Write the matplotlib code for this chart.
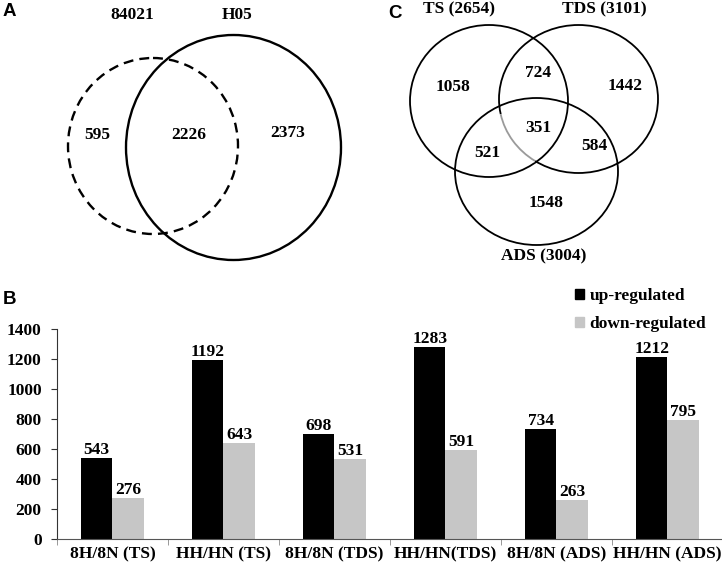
import numpy as np
import matplotlib.pyplot as plt
from matplotlib.patches import Ellipse, Arc, Patch

# panel B data
categories = ['8H/8N (TS)', 'HH/HN (TS)', '8H/8N (TDS)', 'HH/HN(TDS)', '8H/8N (ADS)', 'HH/HN (ADS)']
up_reg = [543, 1192, 698, 1283, 734, 1212]
down_reg = [276, 643, 531, 591, 263, 795]
series_names = ['up-regulated', 'down-regulated']

# panel A data
venn_a_sets = ['84021', 'H05']
venn_a_counts = [595, 2226, 2373]  # only 84021, both, only H05

# panel C data
venn_c_sets = ['TS (2654)', 'TDS (3101)', 'ADS (3004)']
venn_c_counts = [1058, 724, 1442, 351, 521, 584, 1548]  # TS, TS&TDS, TDS, all, TS&ADS, TDS&ADS, ADS

serif = 'Liberation Serif'
sans = 'Liberation Sans'
fs = 12.5

fig = plt.figure(figsize=(7.22, 5.70), dpi=100)

# overlay axes in pixel coordinates for the venn diagrams and panel letters
ov = fig.add_axes([0, 0, 1, 1])
ov.set_xlim(0, 722)
ov.set_ylim(570, 0)
ov.axis('off')
ov.patch.set_alpha(0)

# --- panel A ---
ov.add_patch(Ellipse((153, 146), 170, 176, fill=False, lw=1.7, ls=(0, (4.2, 2.6)), color='black'))
ov.add_patch(Ellipse((233.5, 147.5), 215, 225, fill=False, lw=1.7, color='black'))
for name, x in zip(venn_a_sets, [132, 237]):
    ov.text(x, 15, name, ha='center', va='center', fontsize=fs, fontweight='bold', family=serif)
for c, (x, y) in zip(venn_a_counts, [(97, 135), (189, 135), (288, 133)]):
    ov.text(x, y, str(c), ha='center', va='center', fontsize=fs, fontweight='bold', family=serif)

# --- panel C ---
ov.add_patch(Ellipse((489, 101), 158, 152, fill=False, lw=1.3, color='black'))
ov.add_patch(Ellipse((578.5, 99), 159, 148, fill=False, lw=1.3, color='black'))
ov.add_patch(Ellipse((536.5, 171.5), 163, 147, fill=False, lw=1.3, color='black'))
# lighter arc segment inside the centre
ov.add_patch(Arc((578.5, 99), 159, 148, theta1=125, theta2=169, lw=2.6, color='white'))
ov.add_patch(Arc((578.5, 99), 159, 148, theta1=125, theta2=169, lw=1.3, color='#9a9a9a'))
for name, (x, y) in zip(venn_c_sets, [(459, 9), (604, 9), (544, 256)]):
    ov.text(x, y, name, ha='center', va='center', fontsize=fs, fontweight='bold', family=serif)
c_pos = [(453, 87), (538, 73), (625, 86), (538, 128), (487, 153), (594, 146), (546, 203)]
for c, (x, y) in zip(venn_c_counts, c_pos):
    ov.text(x, y, str(c), ha='center', va='center', fontsize=fs, fontweight='bold', family=serif)

# panel letters
for letter, (x, y) in zip(['A', 'C', 'B'], [(9, 11), (395, 13), (9, 299)]):
    ov.text(x, y, letter, ha='center', va='center', fontsize=13.5, fontweight='bold', family=sans)

# --- panel B ---
ax = fig.add_axes([57 / 722, 31 / 570, 666 / 722, 210 / 570])
ax.patch.set_alpha(0)
x = np.arange(len(categories))
w = 0.285
b1 = ax.bar(x - w / 2, up_reg, w, color='black', label=series_names[0])
b2 = ax.bar(x + w / 2, down_reg, w, color='#c6c6c6', label=series_names[1])
for bars in (b1, b2):
    for r in bars:
        ax.annotate(str(int(r.get_height())), (r.get_x() + r.get_width() / 2, r.get_height()),
                    xytext=(0, 0), textcoords='offset points', ha='center', va='bottom',
                    fontsize=fs, fontweight='bold', family=serif)

ax.set_xlim(-0.5, len(categories) - 0.5)
ax.set_ylim(0, 1400)
ax.set_yticks(np.arange(0, 1401, 200))
ax.set_xticks(x)
ax.set_xticklabels(categories)
ax.set_xticks(np.arange(-0.5, len(categories) - 0.5, 1), minor=True)
ax.tick_params(axis='x', which='major', length=0, pad=5)
ax.tick_params(axis='x', which='minor', length=4, direction='out', color='#888888')
ax.tick_params(axis='y', length=4, direction='out', pad=7, color='#333333')
for lab in ax.get_xticklabels() + ax.get_yticklabels():
    lab.set_fontsize(fs)
    lab.set_fontweight('bold')
    lab.set_family(serif)
ax.spines['top'].set_visible(False)
ax.spines['right'].set_visible(False)
ax.spines['bottom'].set_color('#555555')
ax.spines['left'].set_color('#333333')

handles = [Patch(color='black'), Patch(color='#c6c6c6')]
fig.legend(handles, series_names, loc='upper left', bbox_to_anchor=(568 / 722, 1 - 281 / 570),
           frameon=False, handlelength=0.55, handleheight=0.55, handletextpad=0.3,
           labelspacing=0.7, borderaxespad=0,
           prop={'family': serif, 'weight': 'bold', 'size': fs})

fig.savefig('out.png', dpi=100)
